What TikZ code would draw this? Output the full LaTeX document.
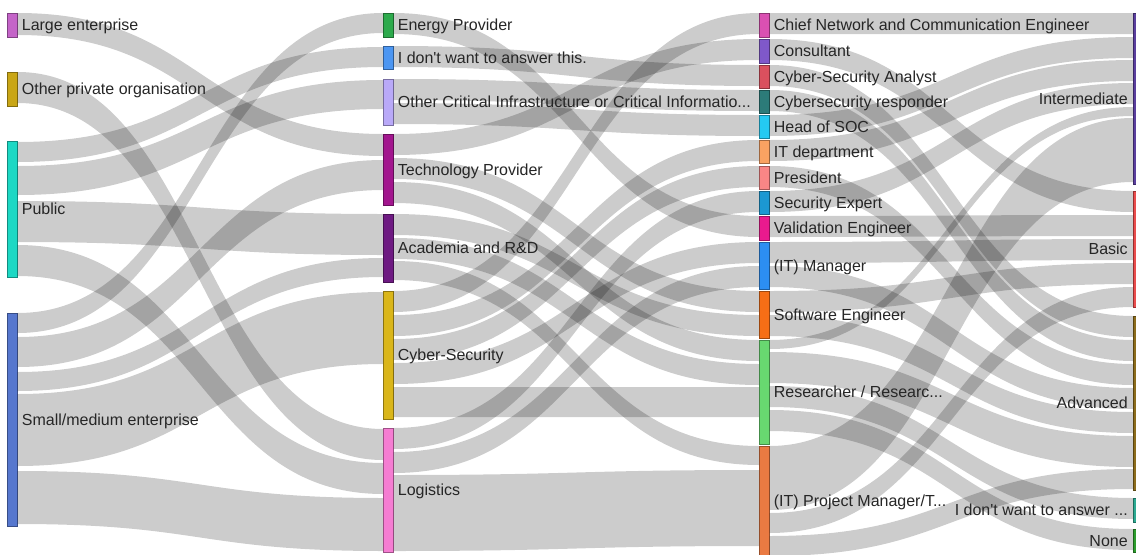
\documentclass[tikz,border=0pt]{standalone}
\usepackage{fontspec}
\setmainfont{Liberation Sans}[Ligatures=TeXOff]
\usetikzlibrary{calc}
\newlength\px
\setlength\px{0.75pt}
\definecolor{cLarge}{HTML}{C464C8}
\definecolor{cOther}{HTML}{C9A616}
\definecolor{cPublic}{HTML}{1CD8C4}
\definecolor{cSme}{HTML}{5677CE}
\definecolor{cEnergy}{HTML}{2DAA4C}
\definecolor{cIdw}{HTML}{4C96F2}
\definecolor{cOci}{HTML}{B9A9F8}
\definecolor{cTech}{HTML}{A2168E}
\definecolor{cAcad}{HTML}{6E1A82}
\definecolor{cCyber}{HTML}{DAB61A}
\definecolor{cLog}{HTML}{F57DD2}
\definecolor{cChief}{HTML}{DA50B2}
\definecolor{cCons}{HTML}{7F58CA}
\definecolor{cAnalyst}{HTML}{DA505E}
\definecolor{cResp}{HTML}{2C7B79}
\definecolor{cSoc}{HTML}{24CAF2}
\definecolor{cItd}{HTML}{F9A262}
\definecolor{cPres}{HTML}{F98686}
\definecolor{cSec}{HTML}{1C98D2}
\definecolor{cVal}{HTML}{EA1A8E}
\definecolor{cMan}{HTML}{2C8EF2}
\definecolor{cSwe}{HTML}{F66E16}
\definecolor{cRes}{HTML}{68D870}
\definecolor{cPm}{HTML}{EA7A42}
\definecolor{cInt}{HTML}{5A3E9E}
\definecolor{cBas}{HTML}{EA4C4C}
\definecolor{cAdv}{HTML}{8C6C1C}
\definecolor{cIdk}{HTML}{2CAA92}
\definecolor{cNone}{HTML}{2C9C2C}

\tikzset{
  bar/.style={draw=#1!65!black, fill=#1, line width=0.6\px, minimum width=10\px, inner sep=0pt, anchor=north west},
  band/.style={fill=black, fill opacity=0.2},
  lbl/.style={font=\fontsize{12}{14}\selectfont, text=black!85, inner sep=0pt, yshift=-4.2pt},
  lblr/.style={lbl, anchor=base west, xshift=4\px},
  lbll/.style={lbl, anchor=base east, xshift=-5\px},
}

% band from one node to the next: source, offset, target, offset, width (px)
\newcommand\flow[5]{%
  \pgfmathsetmacro\ea{#2+#5}\pgfmathsetmacro\eb{#4+#5}%
  \fill[band] ([yshift=-#2\px]#1.north east) .. controls +(183\px,0) and +(-183\px,0) .. ([yshift=-#4\px]#3.north west)
    -- ([yshift=-\eb\px]#3.north west) .. controls +(-183\px,0) and +(183\px,0) .. ([yshift=-\ea\px]#1.north east) -- cycle;
}

\begin{document}
\begin{tikzpicture}[x=0.75pt, y=-0.75pt]
  \useasboundingbox (0,0) rectangle (1136,554);
  \clip (0,0) rectangle (1136,554);

  % organisation type
  \node[bar=cLarge, minimum height=24\px] (le) at (7,13) {};
  \node[bar=cOther, minimum height=34\px] (op) at (7,72) {};
  \node[bar=cPublic, minimum height=136\px] (pub) at (7,141) {};
  \node[bar=cSme, minimum height=213\px] (sme) at (7,313) {};

  % sector
  \node[bar=cEnergy, minimum height=24\px] (ep) at (383,13) {};
  \node[bar=cIdw, minimum height=23\px] (idw) at (383,46) {};
  \node[bar=cOci, minimum height=46\px] (oci) at (383,79) {};
  \node[bar=cTech, minimum height=71\px] (tp) at (383,134) {};
  \node[bar=cAcad, minimum height=68\px] (ard) at (383,214) {};
  \node[bar=cCyber, minimum height=128\px] (cs) at (383,291) {};
  \node[bar=cLog, minimum height=124\px] (lg) at (383,428) {};

  % role
  \node[bar=cChief, minimum height=24\px] (cnce) at (759,13) {};
  \node[bar=cCons, minimum height=24\px] (con) at (759,39) {};
  \node[bar=cAnalyst, minimum height=23\px] (csa) at (759,65) {};
  \node[bar=cResp, minimum height=23\px] (csr) at (759,90) {};
  \node[bar=cSoc, minimum height=23\px] (soc) at (759,115) {};
  \node[bar=cItd, minimum height=23\px] (itd) at (759,140) {};
  \node[bar=cPres, minimum height=23\px] (pre) at (759,166) {};
  \node[bar=cSec, minimum height=23\px] (sec) at (759,191) {};
  \node[bar=cVal, minimum height=24\px] (val) at (759,216) {};
  \node[bar=cMan, minimum height=47\px] (man) at (759,242) {};
  \node[bar=cSwe, minimum height=47\px] (swe) at (759,291) {};
  \node[bar=cRes, minimum height=104\px] (res) at (759,340) {};
  \node[bar=cPm, minimum height=110\px] (pm) at (759,446) {};

  % level
  \node[bar=cInt, minimum height=171\px] (int) at (1133,13) {};
  \node[bar=cBas, minimum height=116\px] (bas) at (1133,191) {};
  \node[bar=cAdv, minimum height=174\px] (adv) at (1133,316) {};
  \node[bar=cIdk, minimum height=24\px] (idk) at (1133,498) {};
  \node[bar=cNone, minimum height=23\px] (non) at (1133,529) {};

  % organisation -> sector
  \flow{le}{0}{tp}{0}{22}
  \flow{op}{0}{lg}{1}{31}
  \flow{pub}{1}{idw}{1}{20}
  \flow{pub}{25}{oci}{1}{29}
  \flow{pub}{60}{ard}{0}{41}
  \flow{pub}{104}{lg}{35}{31}
  \flow{sme}{0}{ep}{0}{20}
  \flow{sme}{24}{tp}{26}{30}
  \flow{sme}{59}{ard}{44}{19}
  \flow{sme}{81}{cs}{1}{72}
  \flow{sme}{158}{lg}{70}{53}

  % sector -> role
  \flow{ep}{0}{val}{0}{21}
  \flow{idw}{0}{csa}{0}{21}
  \flow{oci}{0}{csr}{0}{21}
  \flow{oci}{24}{soc}{0}{21}
  \flow{tp}{0}{con}{0}{21}
  \flow{tp}{24}{swe}{0}{21}
  \flow{tp}{48}{res}{0}{21}
  \flow{ard}{0}{swe}{24}{21}
  \flow{ard}{24}{res}{24}{21}
  \flow{ard}{47}{pm}{0}{19}
  \flow{cs}{0}{cnce}{0}{21}
  \flow{cs}{24}{itd}{0}{21}
  \flow{cs}{48}{pre}{0}{21}
  \flow{cs}{72}{man}{0}{21}
  \flow{cs}{96}{res}{47}{30}
  \flow{lg}{0}{sec}{0}{21}
  \flow{lg}{24}{man}{24}{21}
  \flow{lg}{47}{pm}{24}{76}

  % role -> level
  \flow{cnce}{0}{int}{0}{21}
  \flow{con}{0}{bas}{0}{21}
  \flow{csa}{0}{adv}{0}{21}
  \flow{csr}{0}{adv}{24}{21}
  \flow{soc}{0}{int}{24}{21}
  \flow{itd}{0}{int}{47}{21}
  \flow{pre}{0}{adv}{48}{21}
  \flow{sec}{0}{int}{70}{21}
  \flow{val}{0}{bas}{24}{21}
  \flow{man}{0}{bas}{48}{21}
  \flow{man}{24}{adv}{72}{21}
  \flow{swe}{0}{bas}{72}{21}
  \flow{swe}{24}{adv}{96}{21}
  \flow{res}{0}{int}{94}{9}
  \flow{res}{12}{adv}{120}{31}
  \flow{res}{46}{idk}{0}{21}
  \flow{res}{70}{non}{0}{21}
  \flow{pm}{0}{int}{105}{64}
  \flow{pm}{67}{bas}{96}{20}
  \flow{pm}{90}{adv}{153}{20}

  % labels
  \node[lblr] (le-l) at (le.east) {Large enterprise};
  \node[lblr] (op-l) at (op.east) {Other private organisation};
  \node[lblr] (pub-l) at (pub.east) {Public};
  \node[lblr] (sme-l) at (sme.east) {Small/medium enterprise};
  \node[lblr] (ep-l) at (ep.east) {Energy Provider};
  \node[lblr] (idw-l) at (idw.east) {I don't want to answer this.};
  \node[lblr] (oci-l) at (oci.east) {Other Critical Infrastructure or Critical Informatio...};
  \node[lblr] (tp-l) at (tp.east) {Technology Provider};
  \node[lblr] (ard-l) at (ard.east) {Academia and R\&D};
  \node[lblr] (cs-l) at (cs.east) {Cyber-Security};
  \node[lblr] (lg-l) at (lg.east) {Logistics};
  \node[lblr] (cnce-l) at (cnce.east) {Chief Network and Communication Engineer};
  \node[lblr] (con-l) at (con.east) {Consultant};
  \node[lblr] (csa-l) at (csa.east) {Cyber-Security Analyst};
  \node[lblr] (csr-l) at (csr.east) {Cybersecurity responder};
  \node[lblr] (soc-l) at (soc.east) {Head of SOC};
  \node[lblr] (itd-l) at (itd.east) {IT department};
  \node[lblr] (pre-l) at (pre.east) {President};
  \node[lblr] (sec-l) at (sec.east) {Security Expert};
  \node[lblr] (val-l) at (val.east) {Validation Engineer};
  \node[lblr] (man-l) at (man.east) {(IT) Manager};
  \node[lblr] (swe-l) at (swe.east) {Software Engineer};
  \node[lblr] (res-l) at (res.east) {Researcher / Researc...};
  \node[lblr] (pm-l) at (pm.east) {(IT) Project Manager/T...};
  \node[lbll] (int-l) at (int.west) {Intermediate};
  \node[lbll] (bas-l) at (bas.west) {Basic};
  \node[lbll] (adv-l) at (adv.west) {Advanced};
  \node[lbll] (idk-l) at (idk.west) {I don't want to answer ...};
  \node[lbll] (non-l) at (non.west) {None};
\end{tikzpicture}
\end{document}
